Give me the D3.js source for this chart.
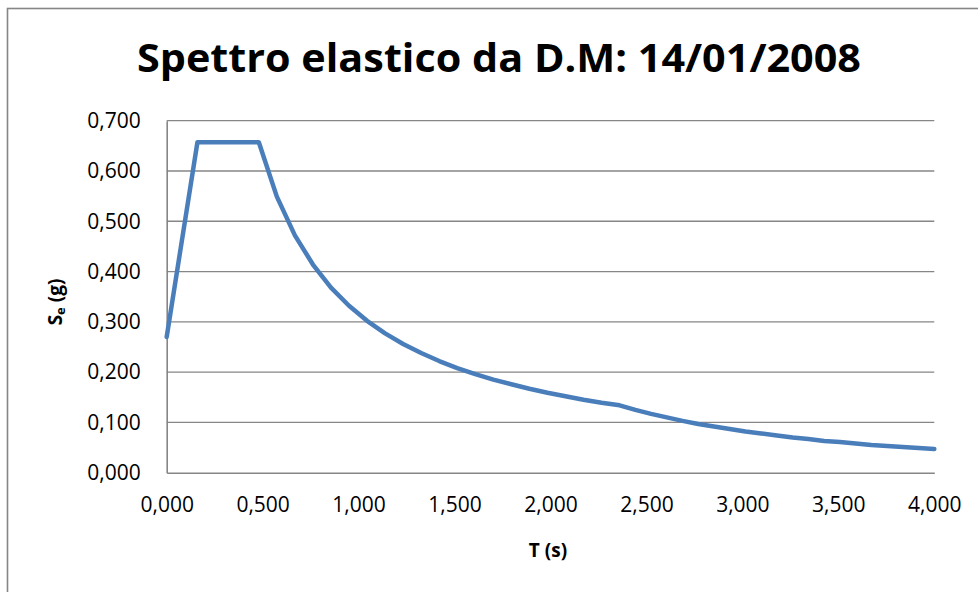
<!DOCTYPE html>
<html>
<head>
<meta charset="utf-8">
<script src="https://cdn.jsdelivr.net/npm/d3@7"></script>
<style>
  body { margin: 0; background: #fff; }
  svg { display: block; font-family: "Open Sans", sans-serif; }
</style>
</head>
<body>
<div id="chart"></div>
<script>
// periodo T (s)
var periods = [0.000, 0.160, 0.480, 0.574, 0.668, 0.762, 0.856, 0.950, 1.044, 1.138, 1.232, 1.326, 1.420, 1.514, 1.608, 1.702, 1.796, 1.890, 1.984, 2.078, 2.172, 2.266, 2.360,
  2.442, 2.524, 2.606, 2.688, 2.770, 2.852, 2.934, 3.016, 3.098, 3.180, 3.262, 3.344, 3.426, 3.508, 3.590, 3.672, 3.754, 3.836, 3.918, 4.000];
// Se (g)
var seValues = [0.270, 0.657, 0.657, 0.549, 0.472, 0.414, 0.368, 0.332, 0.302, 0.277, 0.256, 0.238, 0.222, 0.208, 0.196, 0.185, 0.176, 0.167, 0.159, 0.152, 0.145, 0.139, 0.134,
  0.125, 0.117, 0.110, 0.103, 0.097, 0.092, 0.087, 0.082, 0.078, 0.074, 0.070, 0.067, 0.063, 0.061, 0.058, 0.055, 0.053, 0.051, 0.049, 0.047];
var xTicks = [0, 0.5, 1, 1.5, 2, 2.5, 3, 3.5, 4];
var yTicks = [0, 0.1, 0.2, 0.3, 0.4, 0.5, 0.6, 0.7];

var W = 978, H = 592;
var svg = d3.select("#chart").append("svg").attr("width", W).attr("height", H);

// bordo area grafico
svg.append("rect")
  .attr("x", 7.5).attr("y", 8.5).attr("width", 1000).attr("height", 700)
  .style("fill", "none").style("stroke", "#868686").style("stroke-width", 1.6);

var x = d3.scaleLinear().domain([0, 4]).range([166.7, 934.3]);
var y = d3.scaleLinear().domain([0, 0.7]).range([472.7, 120.7]);

var fmt = function(d) { return d3.format(".3f")(d).replace(".", ","); };

// griglia
svg.append("g").selectAll("line")
  .data(yTicks.filter(function(d) { return d > 0; })).enter().append("line")
  .attr("x1", x(0)).attr("x2", x(4))
  .attr("y1", function(d) { return y(d); }).attr("y2", function(d) { return y(d); })
  .style("stroke", "#868686").style("stroke-width", 1.3);

// assi
var yAxis = svg.append("g").attr("transform", "translate(" + x(0) + ",0)")
  .call(d3.axisLeft(y).tickValues(yTicks).tickFormat(fmt).tickSize(0).tickPadding(26));
var xAxis = svg.append("g").attr("transform", "translate(0," + y(0) + ")")
  .call(d3.axisBottom(x).tickValues(xTicks).tickFormat(fmt).tickSize(0).tickPadding(26));
[xAxis, yAxis].forEach(function(a) {
  a.select(".domain").style("stroke", "#868686").style("stroke-width", 1.6);
  a.selectAll("text").style("font-family", "Open Sans").style("font-size", "21px").style("fill", "#000");
});
xAxis.selectAll("text").attr("dy", "0.32em").attr("y", 33);

// curva
var line = d3.line()
  .x(function(d, i) { return x(periods[i]); })
  .y(function(d) { return y(d); });
svg.append("path").datum(seValues)
  .attr("d", line)
  .style("fill", "none").style("stroke", "#4a7ebb").style("stroke-width", 4.5)
  .style("stroke-linejoin", "round").style("stroke-linecap", "round");

// titolo
svg.append("text")
  .attr("x", 499).attr("y", 72)
  .attr("text-anchor", "middle")
  .attr("textLength", 724).attr("lengthAdjust", "spacingAndGlyphs")
  .style("font-size", "39px").style("font-weight", "bold")
  .text("Spettro elastico da D.M: 14/01/2008");

// titoli assi
svg.append("text")
  .attr("x", 548).attr("y", 557)
  .attr("text-anchor", "middle")
  .style("font-size", "19px").style("font-weight", "bold")
  .text("T (s)");

var yt = svg.append("text")
  .attr("transform", "translate(62,302) rotate(-90)")
  .attr("text-anchor", "middle")
  .style("font-size", "19px").style("font-weight", "bold");
yt.append("tspan").text("S");
yt.append("tspan").attr("dy", 3).style("font-size", "13px").text("e");
yt.append("tspan").attr("dy", -3).text(" (g)");
</script>
</body>
</html>
